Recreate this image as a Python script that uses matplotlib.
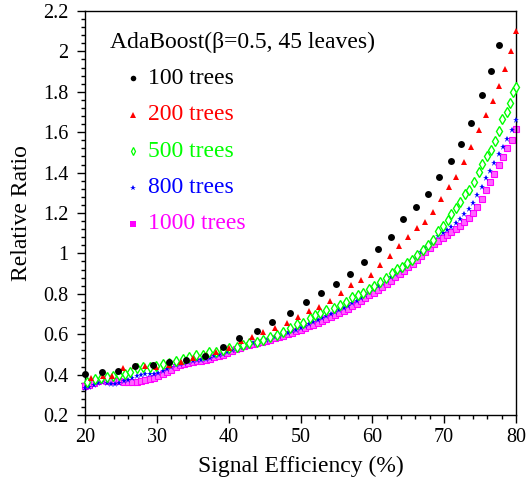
import numpy as np
import matplotlib.pyplot as plt
from matplotlib.ticker import MultipleLocator

plt.rcParams['font.family'] = ['Liberation Serif', 'DejaVu Serif']

# 100 trees
x100 = [20.0, 22.3, 24.6, 26.9, 29.4, 31.7, 34.1, 36.7, 39.2, 41.5, 43.9, 46.1, 48.5, 50.7, 52.8,
        54.9, 56.9, 58.9, 60.8, 62.6, 64.3, 66.1, 67.8, 69.3, 70.9, 72.3, 73.8, 75.2, 76.5, 77.7]
y100 = [0.404, 0.411, 0.416, 0.441, 0.446, 0.464, 0.472, 0.492, 0.536, 0.580, 0.616, 0.659, 0.707, 0.759, 0.804,
        0.850, 0.900, 0.957, 1.023, 1.083, 1.172, 1.230, 1.294, 1.377, 1.456, 1.540, 1.647, 1.784, 1.905, 2.032]

# 200 trees
x200 = [20.9, 22.5, 23.8, 25.3, 27.0, 28.4, 29.9, 31.7, 33.4, 35.1, 36.8, 38.3, 40.1, 41.7, 43.3,
        44.8, 46.5, 48.1, 49.6, 51.2, 52.6, 54.1, 55.6, 57.0, 58.4, 59.8, 61.1, 62.4, 63.7, 65.0,
        66.2, 67.3, 68.5, 69.6, 70.7, 71.7, 72.8, 73.8, 74.8, 75.8, 76.8, 77.6, 78.5, 79.3, 80.0]
y200 = [0.382, 0.395, 0.395, 0.431, 0.441, 0.445, 0.439, 0.448, 0.462, 0.481, 0.496, 0.513, 0.532, 0.566, 0.586,
        0.613, 0.629, 0.656, 0.686, 0.714, 0.733, 0.766, 0.802, 0.842, 0.868, 0.891, 0.941, 0.985, 1.035, 1.081,
        1.124, 1.154, 1.205, 1.269, 1.327, 1.380, 1.451, 1.525, 1.611, 1.685, 1.754, 1.830, 1.913, 2.004, 2.099]

# 500 trees
x500 = [20.3, 21.4, 22.2, 23.0, 23.9, 24.8, 25.6, 26.3, 27.2, 28.1, 29.0, 29.9, 30.8, 31.7, 32.7,
        33.6, 34.5, 35.5, 36.4, 37.3, 38.2, 39.2, 40.1, 41.1, 42.0, 42.9, 43.9, 44.8, 45.8, 46.7,
        47.6, 48.5, 49.5, 50.4, 51.3, 52.0, 52.7, 53.6, 54.6, 55.5, 56.4, 57.1, 58.0, 58.7, 59.5,
        60.2, 61.1, 61.9, 62.7, 63.4, 64.1, 64.8, 65.5, 66.2, 67.1, 67.8, 68.5, 69.2, 69.8, 70.5,
        71.0, 71.7, 72.2, 72.9, 73.5, 74.2, 74.8, 75.3, 75.9, 76.5, 77.1, 77.6, 78.1, 78.7, 79.2,
        79.6, 80.0]
y500 = [0.365, 0.378, 0.382, 0.388, 0.395, 0.398, 0.403, 0.414, 0.431, 0.436, 0.439, 0.444, 0.451, 0.459, 0.469,
        0.477, 0.489, 0.495, 0.497, 0.512, 0.514, 0.522, 0.530, 0.538, 0.547, 0.555, 0.563, 0.571, 0.584, 0.596,
        0.613, 0.629, 0.650, 0.657, 0.679, 0.695, 0.703, 0.720, 0.728, 0.745, 0.761, 0.786, 0.794, 0.806, 0.822,
        0.839, 0.860, 0.878, 0.901, 0.921, 0.934, 0.951, 0.967, 0.992, 1.017, 1.042, 1.066, 1.110, 1.135, 1.165,
        1.195, 1.225, 1.256, 1.293, 1.314, 1.355, 1.404, 1.443, 1.482, 1.512, 1.558, 1.606, 1.664, 1.700, 1.746,
        1.800, 1.822]

# 800 / 1000 trees share the same efficiency points
x_dense = [20.0, 20.6, 21.2, 21.8, 22.4, 23.0, 23.6, 24.2, 24.8, 25.4, 26.0, 26.6, 27.2, 27.8, 28.4,
           29.0, 29.6, 30.2, 30.8, 31.4, 32.0, 32.6, 33.2, 33.8, 34.4, 35.0, 35.6, 36.2, 36.8, 37.4,
           38.0, 38.6, 39.2, 39.8, 40.4, 41.0, 41.6, 42.2, 42.8, 43.4, 44.0, 44.6, 45.2, 45.8, 46.4,
           47.0, 47.6, 48.2, 48.8, 49.4, 50.0, 50.6, 51.2, 51.8, 52.4, 53.0, 53.6, 54.2, 54.8, 55.4,
           56.0, 56.6, 57.2, 57.8, 58.4, 59.0, 59.6, 60.2, 60.8, 61.4, 62.0, 62.6, 63.2, 63.8, 64.4,
           65.0, 65.6, 66.2, 66.8, 67.4, 68.0, 68.6, 69.2, 69.8, 70.4, 71.0, 71.6, 72.2, 72.8, 73.4,
           74.0, 74.6, 75.2, 75.8, 76.4, 77.0, 77.6, 78.2, 78.8, 79.4, 80.0]
y800 = [0.335, 0.340, 0.348, 0.356, 0.362, 0.356, 0.352, 0.355, 0.360, 0.366, 0.372, 0.382, 0.392, 0.398, 0.401,
        0.403, 0.405, 0.408, 0.416, 0.428, 0.438, 0.446, 0.452, 0.457, 0.462, 0.466, 0.470, 0.474, 0.479, 0.484,
        0.490, 0.496, 0.503, 0.511, 0.520, 0.529, 0.537, 0.543, 0.549, 0.554, 0.560, 0.566, 0.572, 0.578, 0.585,
        0.592, 0.600, 0.607, 0.615, 0.623, 0.632, 0.641, 0.650, 0.659, 0.669, 0.679, 0.689, 0.699, 0.709, 0.720,
        0.731, 0.742, 0.754, 0.766, 0.779, 0.793, 0.808, 0.823, 0.838, 0.852, 0.867, 0.883, 0.900, 0.917, 0.934,
        0.952, 0.970, 0.989, 1.008, 1.028, 1.048, 1.068, 1.085, 1.100, 1.115, 1.133, 1.152, 1.172, 1.195, 1.222,
        1.250, 1.290, 1.330, 1.372, 1.410, 1.450, 1.490, 1.525, 1.565, 1.610, 1.660]
y1000 = [0.345, 0.350, 0.360, 0.368, 0.372, 0.370, 0.368, 0.368, 0.366, 0.364, 0.362, 0.362, 0.364, 0.368, 0.372,
         0.378, 0.385, 0.393, 0.402, 0.413, 0.424, 0.436, 0.446, 0.454, 0.459, 0.462, 0.465, 0.469, 0.474, 0.479,
         0.485, 0.491, 0.498, 0.507, 0.516, 0.526, 0.534, 0.540, 0.545, 0.550, 0.555, 0.560, 0.566, 0.572, 0.579,
         0.586, 0.593, 0.600, 0.607, 0.615, 0.623, 0.631, 0.640, 0.648, 0.657, 0.666, 0.676, 0.686, 0.696, 0.706,
         0.716, 0.727, 0.738, 0.750, 0.763, 0.777, 0.792, 0.806, 0.820, 0.833, 0.848, 0.864, 0.881, 0.898, 0.915,
         0.932, 0.950, 0.968, 0.987, 1.006, 1.025, 1.045, 1.062, 1.078, 1.092, 1.108, 1.123, 1.138, 1.155, 1.175,
         1.200, 1.231, 1.270, 1.315, 1.355, 1.395, 1.438, 1.478, 1.520, 1.561, 1.615]

labels = ["100 trees", "200 trees", "500 trees", "800 trees", "1000 trees"]
colors = ["black", "#ff0000", "#00ff00", "#0000ff", "#ff00ff"]

fig = plt.figure(figsize=(5.31, 4.80), dpi=100)
ax = fig.add_axes([85 / 531, 65 / 480, 431 / 531, 404 / 480])

ax.plot(x_dense, y1000, 's', color=colors[4], ms=4.2, mew=0.8, mec=colors[4], mfc='#ff66ff', clip_on=False, zorder=2)
ax.plot(x_dense, y800, '*', color=colors[3], ms=5, mew=0, clip_on=False, zorder=3)
ax.plot(x500, y500, 'd', color=colors[2], ms=5, mew=1.0, mfc='white', clip_on=False, zorder=4)
ax.plot(x200, y200, '^', color=colors[1], ms=5, mew=0, clip_on=False, zorder=5)
ax.plot(x100, y100, 'o', color=colors[0], ms=5, mew=0, clip_on=False, zorder=6)

ax.set_xlim(20, 80)
ax.set_ylim(0.2, 2.2)
ax.xaxis.set_major_locator(MultipleLocator(10))
ax.xaxis.set_minor_locator(MultipleLocator(2))
ax.yaxis.set_major_locator(MultipleLocator(0.2))
ax.yaxis.set_minor_locator(MultipleLocator(0.04))
ax.yaxis.set_major_formatter(plt.FuncFormatter(lambda v, p: f"{v:g}"))
ax.tick_params(which='both', direction='out', top=False, right=False, labelsize=14.5, width=1)
ax.tick_params(which='major', length=6)
ax.tick_params(axis='y', which='major', pad=6)
ax.tick_params(which='minor', length=3)
for s in ax.spines.values():
    s.set_linewidth(1)

ax.set_xlabel("Signal Efficiency (%)", fontsize=17, labelpad=6)
ax.set_ylabel("Relative Ratio", fontsize=17, labelpad=8)

# legend block (ROOT style text box)
ax.text(0.058, 0.923, "AdaBoost(β=0.5, 45 leaves)", transform=ax.transAxes,
        fontsize=17, va='center', ha='left')
markers = ['o', '^', 'd', '*', 's']
row_y = [0.834, 0.743, 0.653, 0.562, 0.473]
for lab, c, m, ry in zip(labels, colors, markers, row_y):
    mfc = 'white' if m == 'd' else c
    ax.plot([0.111], [ry], m, color=c, mfc=mfc, ms=4, mew=0.9 if m == 'd' else 0,
            transform=ax.transAxes, clip_on=False)
    ax.text(0.146, ry, lab, color=c, fontsize=17, va='center', ha='left', transform=ax.transAxes)

fig.savefig("out.png", dpi=100)
